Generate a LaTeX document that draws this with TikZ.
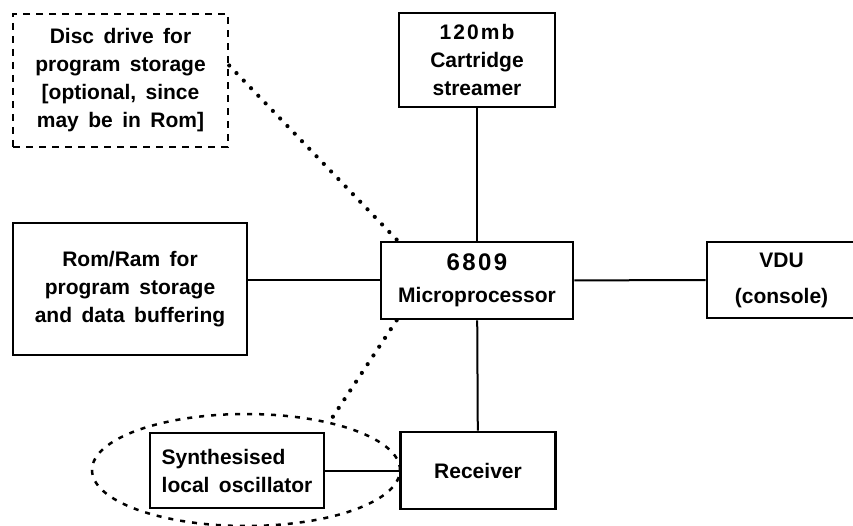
\documentclass[tikz,border=0pt]{standalone}
\usepackage{fontspec}
\setmainfont{Liberation Sans}
\usetikzlibrary{shapes.geometric}
\newcommand\widespace{\spaceskip=0.45em plus 0.1em\relax}
\newcommand\spaced{\addfontfeature{LetterSpace=10}}

\begin{document}
\begin{tikzpicture}[x=1pt, y=-1pt,
  font=\fontsize{21}{28}\selectfont\bfseries\widespace,
  box/.style = {draw, line width=2.8pt, rectangle, inner sep=0pt, align=center},
  optbox/.style = {box, line width=2.4pt, dash pattern=on 7pt off 6pt},
  wire/.style = {line width=2pt},
  dotline/.style = {line width=4.2pt, line cap=round, dash pattern=on 0pt off 10.5pt},
  loopline/.style = {line width=2.5pt, dash pattern=on 5pt off 7pt}]
\useasboundingbox (0,0) rectangle (853,526);
\node[optbox, minimum width=215, minimum height=133] (disc) at (120.5,80.5) {Disc drive for\\program storage\\{[optional, since}\\may be in Rom]};
\node[box, minimum width=156, minimum height=94] (tape) at (477,60) {{\spaced 120mb}\\Cartridge\\streamer};
\node[box, minimum width=192, minimum height=77] (cpu) at (477,280.5) {{\fontsize{24}{28}\selectfont\spaced 6809}\\[4pt]Microprocessor};
\node[box, minimum width=149, minimum height=76] (vdu) at (781.5,280) {VDU\\[8pt](console)};
\node[box, minimum width=234, minimum height=132] (mem) at (130,289) {Rom/Ram for\\program storage\\and data buffering};
\node[box, minimum width=174, minimum height=75, align=left] (synth) at (237,470.5) {Synthesised\\local oscillator};
\node[box, minimum width=155, minimum height=77] (rx) at (478,470.5) {Receiver};
\node[draw, ellipse, loopline, minimum width=308, minimum height=112] (loop) at (246,470) {};
\draw[wire] (tape) -- (cpu);
\draw[wire] (cpu.west) -- (cpu.west -| mem.east);
\draw[wire] (cpu) -- (vdu);
\draw[wire] (cpu) -- (rx);
\draw[wire] (synth.east) -- (synth.east -| rx.west);
% optional parts
\draw[dotline] ([yshift=15pt]disc.east) -- ([xshift=18pt]cpu.north west);
\draw[dotline] ([xshift=17pt]cpu.south west) -- (loop.30);
\end{tikzpicture}
\end{document}
